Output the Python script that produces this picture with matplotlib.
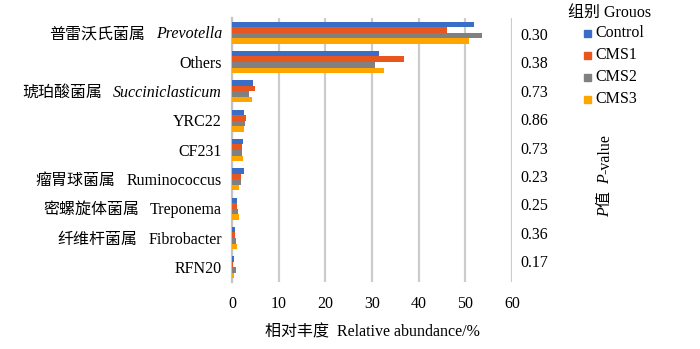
import matplotlib
matplotlib.use("Agg")
import matplotlib.pyplot as plt
import numpy as np
from matplotlib.transforms import IdentityTransform
from matplotlib.patches import Rectangle

plt.rcParams['font.family'] = ['Liberation Serif', 'Noto Sans CJK SC']

# labels: (chinese part, latin part, latin italic?)
taxa = [('普雷沃氏菌属', 'Prevotella', True), ('', 'Others', False),
        ('琥珀酸菌属', 'Succiniclasticum', True), ('', 'YRC22', False),
        ('', 'CF231', False), ('瘤胃球菌属', 'Ruminococcus', False),
        ('密螺旋体菌属', 'Treponema', False), ('纤维杆菌属', 'Fibrobacter', False),
        ('', 'RFN20', False)]
groups = ['Control', 'CMS1', 'CMS2', 'CMS3']
control = [51.9, 31.4, 4.4, 2.6, 2.3, 2.5, 1.07, 0.64, 0.5]
cms1 = [46.1, 36.8, 4.9, 2.9, 2.1, 1.9, 1.07, 0.64, 0.3]
cms2 = [53.6, 30.6, 3.7, 2.7, 2.1, 2.0, 1.36, 0.8, 0.93]
cms3 = [50.8, 32.6, 4.2, 2.6, 2.4, 1.57, 1.57, 1.0, 0.43]
pvals = ['0.30', '0.38', '0.73', '0.86', '0.73', '0.23', '0.25', '0.36', '0.17']
colors = ['#3A6EC6', '#E8561E', '#808080', '#FFA500']
FS = 11.5

fig = plt.figure(figsize=(7, 3.49), dpi=100)
H = 349
ax = fig.add_axes([232/700, 1-282/H, 280/700, 264/H])

y = np.arange(len(taxa))
h = 0.19
for i, (vals, c) in enumerate(zip([control, cms1, cms2, cms3], colors)):
    ax.barh(y + (i - 1.5) * h, vals, height=h, color=c, label=groups[i], zorder=3)

ax.set_xlim(0, 60)
ax.set_ylim(len(taxa) - 0.5, -0.5)
ax.set_xticks(range(0, 61, 10))
ax.set_yticks(y)
ax.set_yticklabels([])
ax.tick_params(axis='x', length=0, pad=10, labelsize=FS)
ax.tick_params(axis='y', length=0)
ax.grid(axis='x', color='#CCCCCC', linewidth=1.6, zorder=0)
for s in ['top', 'right', 'bottom']:
    ax.spines[s].set_visible(False)
ax.spines['left'].set_color('#C4C4C4')
ax.spines['left'].set_linewidth(1.6)
ax.set_xlabel('相对丰度  Relative abundance/%', fontsize=FS, labelpad=9)

# p-values on a separate right-hand scale
ax2 = ax.twinx()
ax2.set_ylim(8.733, -0.563)
ax2.set_yticks(y)
ax2.set_yticklabels(pvals)
ax2.tick_params(axis='y', length=0, pad=6, labelsize=FS)
for s in ax2.spines.values():
    s.set_visible(False)

renderer = fig.canvas.get_renderer()


def text_width(s, style):
    t = fig.text(0, 0, s, fontsize=FS, style=style)
    w = t.get_window_extent(renderer).width
    t.remove()
    return w


def draw_runs(runs, x, yb, align='right', rotation=0):
    # runs: list of (text, style, gap after); x, yb in display pixels at baseline
    widths = [text_width(s, st) for s, st, g in runs]
    total = sum(widths) + sum(g for s, st, g in runs[:-1])
    start = x - total if align == 'right' else x
    pos = 0
    for (s, st, g), w in zip(runs, widths):
        if rotation == 0:
            px, py = start + pos, yb
        else:
            px, py = x, yb + pos
        fig.text(px, py, s, fontsize=FS, style=st, rotation=rotation,
                 rotation_mode='anchor', ha='left', va='baseline',
                 transform=IdentityTransform())
        pos += w + g


for yi, (cn, lat, it) in zip(y, taxa):
    yc = ax.transData.transform((0, yi))[1]
    runs = []
    if cn:
        runs.append((cn, 'normal', 11))
    runs.append((lat, 'italic' if it else 'normal', 0))
    draw_runs(runs, 222, yc - 5.5, align='right')

# P-value axis title (vertical)
draw_runs([('P', 'italic', 0), ('值', 'normal', 7), ('P', 'italic', 0),
           ('-value', 'normal', 0)],
          609, H - 217, align='left', rotation=90)

# legend
fig.text(610/700, 1-13/H, '组别 Grouos', fontsize=FS, ha='center', va='center')
for k, (g, c) in enumerate(zip(groups, colors)):
    yc = 33 + k * 22
    fig.patches.append(Rectangle((584/700, 1-(yc+3.5)/H), 7/700, 7/H,
                                 color=c, transform=fig.transFigure, figure=fig))
    fig.text(595/700, 1-yc/H, g, fontsize=FS, ha='left', va='center')

fig.savefig('out.png', dpi=100)
